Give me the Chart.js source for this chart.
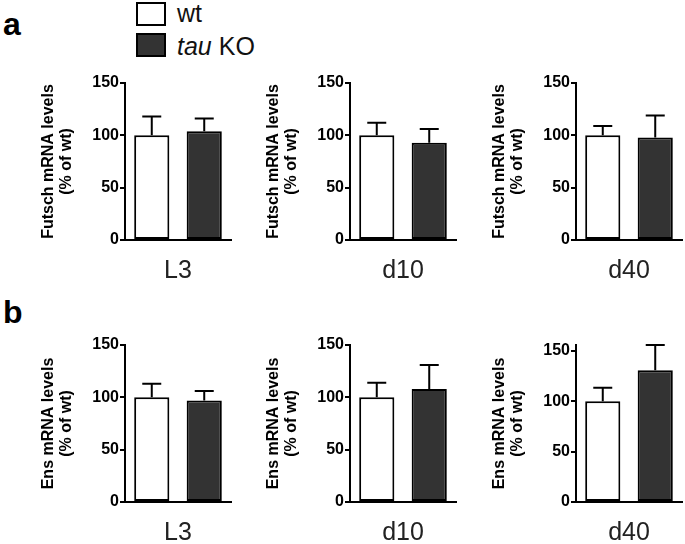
<!DOCTYPE html>
<html>
<head>
<meta charset="utf-8">
<script src="https://cdn.jsdelivr.net/npm/chart.js@4.4.0/dist/chart.umd.min.js"></script>
<style>
  html, body { margin: 0; padding: 0; background: #fff; }
  body { width: 685px; height: 544px; position: relative; overflow: hidden; font-family: "Liberation Sans", Arial, sans-serif; }
  .pane { position: absolute; }
  .lbl { position: absolute; font-weight: bold; font-size: 32px; line-height: 32px; color: #000; }
  .legbox { position: absolute; width: 30px; height: 24px; box-sizing: border-box; border: 2px solid #000; }
  .legtxt { position: absolute; font-size: 25px; line-height: 25px; color: #111; white-space: nowrap; }
</style>
</head>
<body>
<div class="lbl" style="left:3px; top:8px;">a</div>
<div class="lbl" style="left:3px; top:296px;">b</div>
<div class="legbox" style="left:136px; top:2px; background:#fff;"></div>
<div class="legtxt" style="left:177px; top:1px;">wt</div>
<div class="legbox" style="left:136px; top:33px; background:#333;"></div>
<div class="legtxt" style="left:177px; top:34px;"><i>tau</i> KO</div>

<script>
// ---- data ----
const categories = ['L3', 'd10', 'd40'];
const seriesNames = ['wt', 'tau KO'];
const futschWt = [100, 100, 100];
const futschWtErr = [18, 12, 9];
const futschKo = [104, 93, 98];
const futschKoErr = [12, 13, 21];
const ensWt = [100, 100, 100];
const ensWtErr = [13, 14, 13.5];
const ensKo = [97, 108, 131];
const ensKoErr = [9, 23, 25];
const yTicks = [0, 50, 100, 150];
const futschMax = [150, 150, 150];
const ensMax = [150, 150, 156];

const FONT = '"Liberation Sans", Arial, sans-serif';

const errorBarPlugin = {
  id: 'errorBars',
  afterDatasetsDraw(chart) {
    const ctx = chart.ctx;
    const yScale = chart.scales.y;
    chart.data.datasets.forEach((ds, i) => {
      const meta = chart.getDatasetMeta(i);
      meta.data.forEach((bar, j) => {
        const v = ds.data[j];
        const e = ds.errors[j];
        const yTop = yScale.getPixelForValue(v + e);
        ctx.save();
        ctx.strokeStyle = '#000';
        ctx.lineWidth = 2;
        ctx.beginPath();
        ctx.moveTo(bar.x, bar.y);
        ctx.lineTo(bar.x, yTop);
        ctx.moveTo(bar.x - 9.5, yTop);
        ctx.lineTo(bar.x + 9.5, yTop);
        ctx.stroke();
        ctx.restore();
      });
    });
  }
};

function makeChart(left, top, height, xHeight, cat, wt, wtErr, ko, koErr, yMax, titleWord) {
  const div = document.createElement('div');
  div.className = 'pane';
  div.style.left = left + 'px';
  div.style.top = top + 'px';
  const cv = document.createElement('canvas');
  cv.width = 197; cv.height = height;
  cv.style.width = '197px'; cv.style.height = height + 'px';
  div.appendChild(cv);
  document.body.appendChild(div);
  new Chart(cv, {
    type: 'bar',
    data: {
      labels: [cat],
      datasets: [
        { label: seriesNames[0], data: [wt], errors: [wtErr], backgroundColor: '#ffffff', borderColor: '#000', borderWidth: 2, borderSkipped: false },
        { label: seriesNames[1], data: [ko], errors: [koErr], backgroundColor: '#333333', borderColor: '#000', borderWidth: 2, borderSkipped: false }
      ]
    },
    options: {
      responsive: false,
      animation: false,
      devicePixelRatio: 1,
      layout: { padding: { left: 0, top: 23, right: 2, bottom: 0 } },
      datasets: { bar: { categoryPercentage: 0.99, barPercentage: 0.67 } },
      plugins: { legend: { display: false }, tooltip: { enabled: false } },
      scales: {
        x: {
          type: 'category',
          grid: { display: false, drawTicks: false },
          border: { display: true, color: '#000', width: 2 },
          ticks: { color: '#222', font: { family: FONT, size: 25 }, padding: 16 },
          afterFit: s => { s.height = xHeight; }
        },
        y: {
          min: 0, max: yMax,
          afterBuildTicks: s => { s.ticks = yTicks.map(v => ({ value: v })); },
          grid: { display: true, drawOnChartArea: false, drawTicks: true, tickLength: 5, color: '#000', lineWidth: 2 },
          border: { display: true, color: '#000', width: 2 },
          ticks: { color: '#000', font: { family: FONT, size: 16, weight: 'bold' }, padding: 1 },
          title: { display: true, text: [titleWord + ' mRNA levels', '(% of wt)'], color: '#000', font: { family: FONT, size: 16, weight: 'bold', lineHeight: 1.12 }, padding: { top: 4, bottom: 0 } },
          afterFit: s => { s.width = 89; }
        }
      }
    },
    plugins: [errorBarPlugin]
  });
}

const axisX = [125, 350, 576];
for (let i = 0; i < 3; i++) {
  makeChart(axisX[i] - 89, 60, 230, 50, categories[i], futschWt[i], futschWtErr[i], futschKo[i], futschKoErr[i], futschMax[i], 'Futsch');
  makeChart(axisX[i] - 89, 322, 222, 42, categories[i], ensWt[i], ensWtErr[i], ensKo[i], ensKoErr[i], ensMax[i], 'Ens');
}
</script>
</body>
</html>
